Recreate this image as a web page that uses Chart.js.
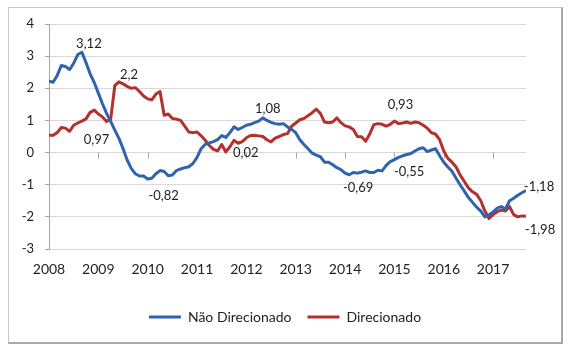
<!DOCTYPE html>
<html><head><meta charset="utf-8">
<script src="https://cdn.jsdelivr.net/npm/chart.js@4.4.0/dist/chart.umd.min.js"></script>
<style>
html,body{margin:0;padding:0;background:#fff;}
#wrap{position:relative;width:570px;height:351px;overflow:hidden;}
#frame{position:absolute;left:8px;top:7px;width:552px;height:334px;border:1px solid #c8c8c8;border-right:2px solid #a8a8a8;border-bottom:2px solid #a8a8a8;pointer-events:none;}
canvas{position:absolute;left:0;top:0;}
</style></head><body>
<div id="wrap"><canvas id="c" width="570" height="351"></canvas><div id="frame"></div></div>
<script>
// Monthly series, Jan 2008 .. Sep 2017
const yearLabels = ['2008','2009','2010','2011','2012','2013','2014','2015','2016','2017'];
const seriesNames = ['Não Direcionado', 'Direcionado'];
const naoDirecionado = [
  2.22, 2.19, 2.40, 2.71, 2.68, 2.58, 2.78, 3.05, 3.12, 2.80, 2.45, 2.18,
  1.85, 1.52, 1.22, 0.97, 0.70, 0.44, 0.13, -0.23, -0.49, -0.66, -0.73, -0.73,
  -0.82, -0.80, -0.66, -0.56, -0.59, -0.72, -0.70, -0.56, -0.51, -0.47, -0.44, -0.34,
  -0.15, 0.12, 0.26, 0.30, 0.34, 0.40, 0.53, 0.47, 0.62, 0.80, 0.72, 0.78,
  0.85, 0.88, 0.93, 0.98, 1.08, 1.00, 0.94, 0.90, 0.88, 0.90, 0.80, 0.72,
  0.62, 0.40, 0.25, 0.12, -0.02, -0.08, -0.13, -0.30, -0.30, -0.38, -0.47, -0.53,
  -0.64, -0.69, -0.62, -0.64, -0.61, -0.57, -0.62, -0.62, -0.55, -0.57, -0.40, -0.28,
  -0.22, -0.15, -0.10, -0.06, -0.03, 0.05, 0.12, 0.15, 0.03, 0.08, 0.12, -0.10,
  -0.30, -0.45, -0.58, -0.80, -1.01, -1.20, -1.40, -1.55, -1.70, -1.82, -2.00, -1.94,
  -1.85, -1.73, -1.68, -1.76, -1.50, -1.42, -1.33, -1.25, -1.18
];
const direcionado = [
  0.54, 0.54, 0.62, 0.78, 0.76, 0.66, 0.85, 0.92, 0.98, 1.05, 1.25, 1.32,
  1.20, 1.11, 0.97, 1.04, 2.08, 2.20, 2.14, 2.06, 2.00, 2.02, 1.90, 1.76,
  1.67, 1.64, 1.82, 1.90, 1.16, 1.20, 1.06, 1.04, 1.00, 0.82, 0.64, 0.62,
  0.64, 0.52, 0.38, 0.22, 0.10, 0.05, 0.25, 0.02, 0.18, 0.38, 0.29, 0.34,
  0.46, 0.53, 0.54, 0.52, 0.50, 0.40, 0.33, 0.45, 0.50, 0.56, 0.59, 0.82,
  0.92, 1.02, 1.06, 1.15, 1.24, 1.35, 1.22, 0.95, 0.93, 0.95, 1.08, 0.93,
  0.83, 0.80, 0.72, 0.50, 0.49, 0.35, 0.58, 0.87, 0.90, 0.88, 0.82, 0.88,
  0.98, 0.90, 0.92, 0.95, 0.91, 0.95, 0.93, 0.85, 0.76, 0.62, 0.57, 0.40,
  0.05, -0.18, -0.30, -0.45, -0.70, -0.90, -1.10, -1.22, -1.30, -1.50, -1.82, -2.05,
  -1.93, -1.84, -1.79, -1.82, -1.68, -1.93, -2.00, -1.97, -1.98
];
// Value labels: which series, which month index, text shown
const labelSeries = [0, 1, 1, 0, 0, 1, 0, 1, 0, 0, 1];
const labelIndex  = [8, 17, 14, 24, 52, 43, 73, 84, 81, 116, 116];
const labelText   = ['3,12', '2,2', '0,97', '-0,82', '1,08', '0,02', '-0,69', '0,93', '-0,55', '-1,18', '-1,98'];
// placement styling (pixel offsets from the anchor point)
const labelOffsets = [[7,-8],[10,-7],[-10,18],[16,17],[5,-9],[20,1],[9,13],[6,-16],[27,1],[13,-4],[14,14]];

const COLORS = ['#2e63b0', '#b3302c'];
const TEXT = '#222222';
const FONT = 'Lato, "Liberation Sans", sans-serif';
const allSeries = [naoDirecionado, direcionado];

const zeroTicks = {
  id: 'zeroTicks',
  beforeDatasetsDraw(chart) {
    const {ctx, scales: {x, y}} = chart;
    const y0 = y.getPixelForValue(0);
    ctx.save();
    ctx.strokeStyle = '#a6a6a6';
    ctx.lineWidth = 1;
    yearLabels.forEach((_, i) => {
      if (i === 0) return;
      const px = Math.round(x.getPixelForValue(i * 12)) + 0.5;
      ctx.beginPath();
      ctx.moveTo(px, y0);
      ctx.lineTo(px, y0 + 6);
      ctx.stroke();
    });
    ctx.restore();
  }
};

const valueLabels = {
  id: 'valueLabels',
  afterDatasetsDraw(chart) {
    const {ctx, scales: {x, y}} = chart;
    ctx.save();
    ctx.font = '13px ' + FONT;
    ctx.fillStyle = TEXT;
    ctx.textAlign = 'center';
    ctx.textBaseline = 'middle';
    labelText.forEach((t, k) => {
      const s = allSeries[labelSeries[k]];
      const i = labelIndex[k];
      const px = x.getPixelForValue(i);
      const py = y.getPixelForValue(s[i]);
      ctx.fillText(t, px + labelOffsets[k][0], py + labelOffsets[k][1]);
    });
    ctx.restore();
  }
};

new Chart(document.getElementById('c'), {
  type: 'line',
  data: {
    datasets: allSeries.map((s, k) => ({
      label: seriesNames[k],
      data: s.map((v, i) => ({x: i, y: v})),
      borderColor: COLORS[k],
      backgroundColor: COLORS[k],
      borderWidth: 3,
      pointRadius: 0,
      tension: 0,
      borderJoinStyle: 'round',
      fill: false
    }))
  },
  options: {
    responsive: false,
    animation: false,
    devicePixelRatio: 1,
    layout: {padding: {top: 24, right: 0, left: 0, bottom: 17}},
    plugins: {
      legend: {
        position: 'bottom',
        labels: {
          usePointStyle: true,
          pointStyle: 'line',
          pointStyleWidth: 32,
          boxHeight: 14,
          padding: 16,
          color: TEXT,
          font: {family: FONT, size: 14}
        }
      },
      tooltip: {enabled: false}
    },
    scales: {
      x: {
        type: 'linear',
        min: 0,
        max: 116,
        afterBuildTicks: (s) => { s.ticks = s.ticks.filter(t => t.value % 12 === 0); },
        afterFit: (s) => { s.height = 45; },
        ticks: {
          stepSize: 12,
          includeBounds: false,
          autoSkip: false,
          maxRotation: 0,
          padding: 4,
          color: TEXT,
          font: {family: FONT, size: 14},
          callback: (v) => yearLabels[v / 12] ?? ''
        },
        grid: {display: false},
        border: {display: false}
      },
      y: {
        min: -3,
        max: 4,
        afterFit: (s) => { s.width = 49; },
        ticks: {
          stepSize: 1,
          padding: 11,
          color: TEXT,
          font: {family: FONT, size: 13}
        },
        grid: {color: '#d9d9d9', tickLength: 4, tickColor: '#a6a6a6'},
        border: {color: '#a6a6a6', width: 1}
      },
      yRight: {
        position: 'right',
        display: true,
        afterFit: (s) => { s.width = 44; },
        ticks: {display: false},
        grid: {display: false, drawOnChartArea: false},
        border: {display: false}
      }
    }
  },
  plugins: [zeroTicks, valueLabels]
});
</script>
</body></html>
